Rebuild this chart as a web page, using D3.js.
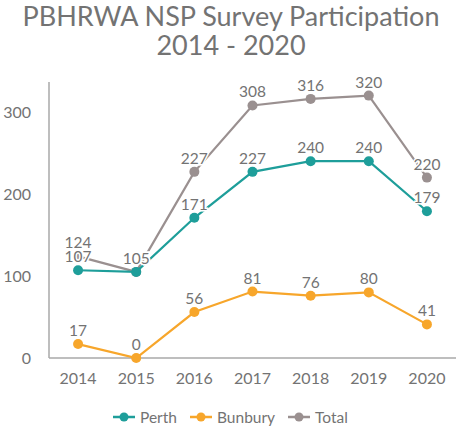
<!DOCTYPE html>
<html><head><meta charset="utf-8">
<script src="https://cdn.jsdelivr.net/npm/d3@7"></script>
<style>body{margin:0;background:#fff;} text{font-family:Lato,"Open Sans",sans-serif;}</style>
</head><body>
<svg id="c" width="461" height="440"></svg>
<script>
const years = ["2014","2015","2016","2017","2018","2019","2020"];
const perth = [107,105,171,227,240,240,179];
const bunbury = [17,0,56,81,76,80,41];
const total = [124,105,227,308,316,320,220];
const seriesNames = ["Perth","Bunbury","Total"];
const seriesColors = ["#1e9e9a","#f7a62b","#9a9090"];
const yTicks = [0,100,200,300];
const titleLines = ["PBHRWA NSP Survey Participation","2014 - 2020"];

const svg = d3.select("#c");
const x = d3.scaleBand().domain(years).range([49,456]);
const y = d3.scaleLinear().domain([0,336]).range([358,82.5]);
const cx = d => x(d)+x.bandwidth()/2;

svg.selectAll("text.title").data(titleLines).join("text")
  .attr("x",231).attr("y",(d,i)=>26+i*29).attr("text-anchor","middle")
  .attr("font-size",27).attr("fill","#737373").text(d=>d);

// axes
svg.append("line").attr("x1",49).attr("x2",49).attr("y1",82).attr("y2",358).attr("stroke","#a8a8a8").attr("stroke-width",1.5);
svg.append("line").attr("x1",49).attr("x2",456).attr("y1",358).attr("y2",358).attr("stroke","#a8a8a8").attr("stroke-width",1.5);
svg.selectAll("text.yt").data(yTicks).join("text").attr("class","yt")
  .attr("x",31).attr("y",d=>y(d)+6).attr("text-anchor","end").attr("font-size",16).attr("fill","#737373").text(d=>d);
svg.selectAll("text.xt").data(years).join("text").attr("class","xt")
  .attr("x",d=>cx(d)).attr("y",384).attr("text-anchor","middle").attr("font-size",16).attr("fill","#737373").text(d=>d);

const series = [perth,bunbury,total];
const order = [2,0,1];
const line = d3.line().x((d,i)=>cx(years[i])).y(d=>y(d));
order.forEach(si=>{
  const g = svg.append("g");
  g.append("path").attr("d",line(series[si])).attr("fill","none").attr("stroke",seriesColors[si]).attr("stroke-width",2.2);
  g.selectAll("circle").data(series[si]).join("circle")
    .attr("cx",(d,i)=>cx(years[i])).attr("cy",d=>y(d)).attr("r",5).attr("fill",seriesColors[si]);
});
order.forEach(si=>{
  svg.append("g").selectAll("text").data(series[si]).join("text")
    .attr("x",(d,i)=>cx(years[i])).attr("y",d=>y(d)-8).attr("text-anchor","middle")
    .attr("font-size",15.5).attr("fill","#737373")
    .attr("stroke","#fff").attr("stroke-width",3).attr("paint-order","stroke").text(d=>d);
});

// legend
const legX = [113,190,288];
seriesNames.forEach((n,i)=>{
  const g = svg.append("g").attr("transform",`translate(${legX[i]},417)`);
  g.append("line").attr("x1",0).attr("x2",22).attr("stroke",seriesColors[i]).attr("stroke-width",2.5);
  g.append("circle").attr("cx",11).attr("r",4.5).attr("fill",seriesColors[i]);
  g.append("text").attr("x",27).attr("y",5.5).attr("font-size",15.5).attr("fill","#737373").text(n);
});
</script>
</body></html>
